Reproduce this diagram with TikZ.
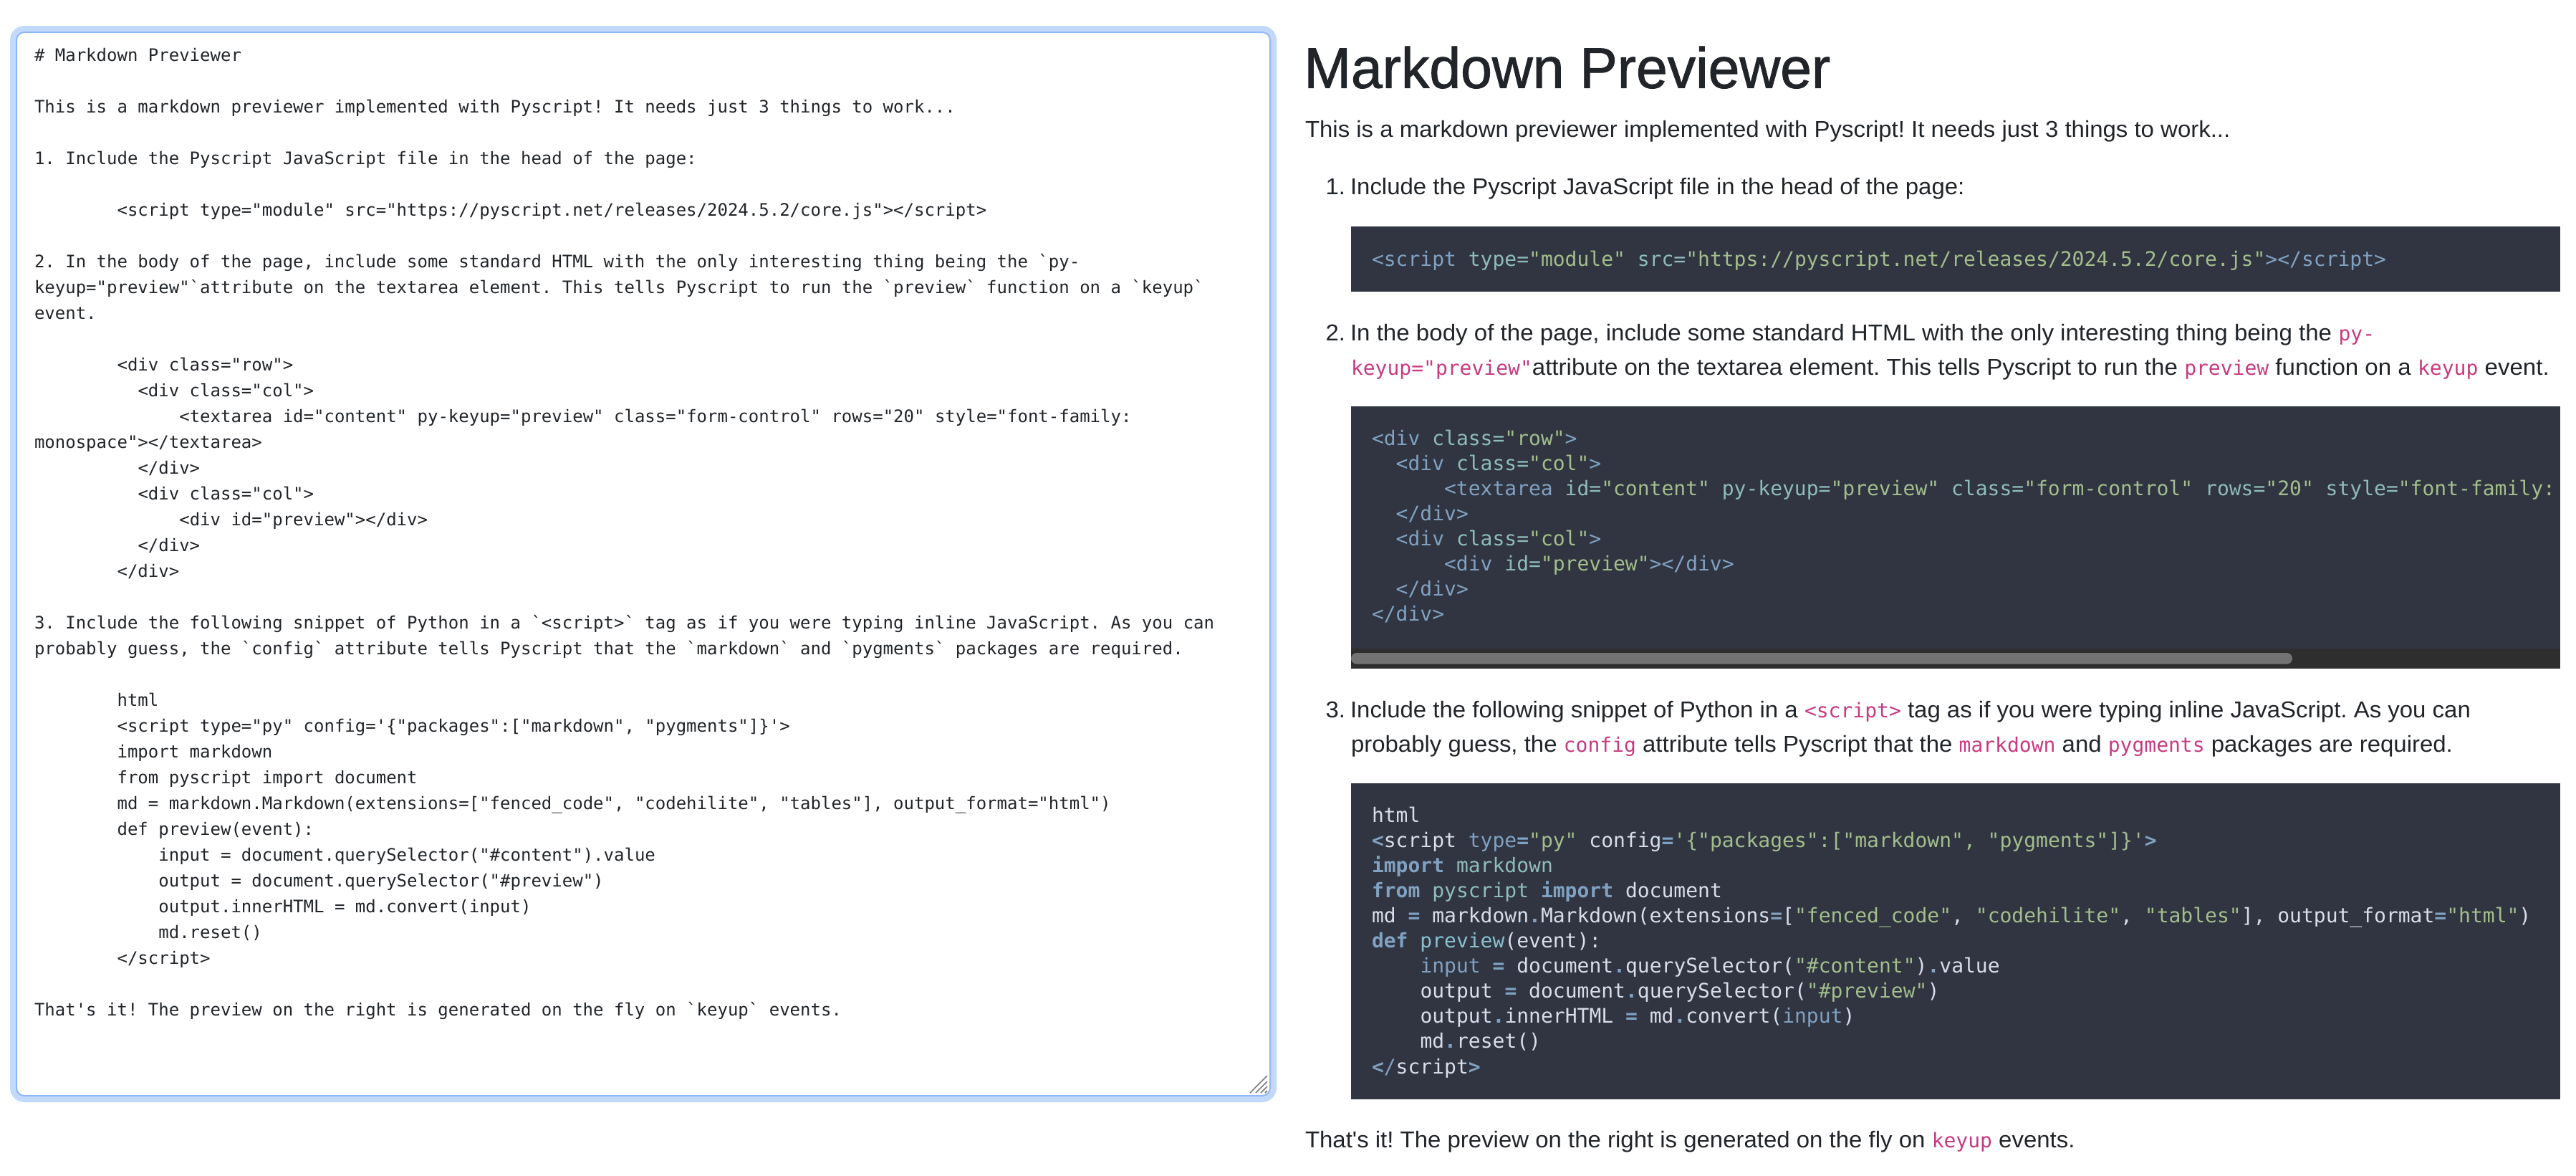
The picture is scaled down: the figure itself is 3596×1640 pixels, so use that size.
\documentclass[tikz,border=0pt]{standalone}
\usepackage{fontspec}
\setmainfont{Liberation Sans}
\newfontfamily\bodyf[FakeStretch=1.03]{Liberation Sans}
\newfontfamily\bodyg[FakeStretch=1.034]{Liberation Sans}
\newfontfamily\titlef[FakeStretch=0.984,FakeBold=1.2]{Liberation Sans}
\newfontfamily\monof{DejaVu Sans Mono}
\definecolor{ink}{HTML}{212529}
\definecolor{glowc}{HTML}{C3D9FC}
\definecolor{borderc}{HTML}{8FB8F8}
\definecolor{blockbg}{HTML}{303541}
\definecolor{trackc}{HTML}{2E2E2E}
\definecolor{thumbc}{HTML}{737373}
\definecolor{gripc}{HTML}{7B7B7B}
\definecolor{pinkc}{HTML}{C93A80}
\definecolor{ntag}{HTML}{81A1C1}
\definecolor{nattr}{HTML}{8FBCBB}
\definecolor{nstr}{HTML}{A3BE8C}
\definecolor{nwht}{HTML}{D8DEE9}
\definecolor{nfun}{HTML}{88C0D0}
\newcommand\cT[1]{\textcolor{ntag}{#1}}
\newcommand\cA[1]{\textcolor{nattr}{#1}}
\newcommand\cS[1]{\textcolor{nstr}{#1}}
\newcommand\cF[1]{\textcolor{nfun}{#1}}
\newcommand\cK[1]{\textcolor{ntag}{\bfseries #1}}
\newcommand\cd[1]{\textcolor{pinkc}{\monof\fontsize{14}{17}\selectfont #1}}
\frenchspacing
\tikzset{
  src/.style={anchor=base west,inner sep=0pt,outer sep=0pt,text=ink,font=\monof\fontsize{12}{18}\selectfont\frenchspacing},
  bodyt/.style={anchor=base west,inner sep=0pt,outer sep=0pt,text=ink,font=\bodyf\fontsize{16}{24}\selectfont\frenchspacing},
  bodyw/.style={bodyt,font=\bodyg\fontsize{16}{24}\selectfont\frenchspacing},
  code/.style={anchor=base west,inner sep=0pt,outer sep=0pt,text=nwht,font=\monof\fontsize{14}{17.5}\selectfont\frenchspacing},
  block/.style={fill=blockbg,draw=none},
  grip/.style={draw=gripc,line width=0.8pt}
}
\begin{document}
\begin{tikzpicture}[x=0.5pt,y=-0.5pt]
\useasboundingbox (0,0) rectangle (3596,1640);
\fill[white] (0,0) rectangle (3596,1640);
% textarea
\fill[glowc,rounded corners=10pt] (14,36) rectangle (1782,1538);
\draw[borderc,fill=white,line width=1pt,rounded corners=5.5pt] (23,45) rectangle (1773,1529);
\draw[grip] (1745,1525) -- (1769,1501);
\draw[grip] (1753,1525) -- (1769,1509);
\draw[grip] (1760,1525) -- (1769,1516);
\draw[grip] (1766,1525) -- (1769,1522);
% source text
\node[src] (L0) at (48,85) {\# Markdown Previewer};
\node[src] (L2) at (48,157) {This is a markdown previewer implemented with Pyscript! It needs just 3 things to work...};
\node[src] (L4) at (48,229) {1. Include the Pyscript JavaScript file in the head of the page:};
\node[src] (L6) at (163.6,301) {<script type="module" src="https://pyscript.net/releases/2024.5.2/core.js"></script>};
\node[src] (L8) at (48,373) {2. In the body of the page, include some standard HTML with the only interesting thing being the `py-};
\node[src] (L9) at (48,409) {keyup="preview"`attribute on the textarea element. This tells Pyscript to run the `preview` function on a `keyup`};
\node[src] (L10) at (48,445) {event.};
\node[src] (L12) at (163.6,517) {<div class="row">};
\node[src] (L13) at (192.5,553) {<div class="col">};
\node[src] (L14) at (250.3,589) {<textarea id="content" py-keyup="preview" class="form-control" rows="20" style="font-family:};
\node[src] (L15) at (48,625) {monospace"></textarea>};
\node[src] (L16) at (192.5,661) {</div>};
\node[src] (L17) at (192.5,697) {<div class="col">};
\node[src] (L18) at (250.3,733) {<div id="preview"></div>};
\node[src] (L19) at (192.5,769) {</div>};
\node[src] (L20) at (163.6,805) {</div>};
\node[src] (L22) at (48,877) {3. Include the following snippet of Python in a `<script>` tag as if you were typing inline JavaScript. As you can};
\node[src] (L23) at (48,913) {probably guess, the `config` attribute tells Pyscript that the `markdown` and `pygments` packages are required.};
\node[src] (L25) at (163.6,985) {html};
\node[src] (L26) at (163.6,1021) {<script type="py" config='\{"packages":["markdown", "pygments"]\}'>};
\node[src] (L27) at (163.6,1057) {import markdown};
\node[src] (L28) at (163.6,1093) {from pyscript import document};
\node[src] (L29) at (163.6,1129) {md = markdown.Markdown(extensions=["fenced\_code", "codehilite", "tables"], output\_format="html")};
\node[src] (L30) at (163.6,1165) {def preview(event):};
\node[src] (L31) at (221.4,1201) {input = document.querySelector("\#content").value};
\node[src] (L32) at (221.4,1237) {output = document.querySelector("\#preview")};
\node[src] (L33) at (221.4,1273) {output.innerHTML = md.convert(input)};
\node[src] (L34) at (221.4,1309) {md.reset()};
\node[src] (L35) at (163.6,1345) {</script>};
\node[src] (L37) at (48,1417) {That's it! The preview on the right is generated on the fly on `keyup` events.};
% rendered preview
\node[anchor=base west,inner sep=0pt,text=ink,font=\titlef\fontsize{40}{48}\selectfont] (title) at (1820,122.7) {Markdown Previewer};
\node[bodyt] (intro) at (1822,191.7) {This is a markdown previewer implemented with Pyscript! It needs just 3 things to work...};
\node[bodyt] (n1) at (1850.5,271.7) {1.};
\node[bodyt] (i1) at (1885,271.7) {Include the Pyscript JavaScript file in the head of the page:};
\fill[block] (1886,316) rectangle (3574,407);
\node[code] (c1) at (1915,371) {\cT{<script} \cA{type=}\cS{"module"} \cA{src=}\cS{"https://pyscript.net/releases/2024.5.2/core.js"}\cT{></script>}};
\node[bodyt] (n2) at (1850.5,475) {2.};
\node[bodyw] (i2a) at (1885,475) {In the body of the page, include some standard HTML with the only interesting thing being the \cd{py-}};
\node[bodyw] (i2b) at (1886,523) {\cd{keyup="preview"}attribute on the textarea element. This tells Pyscript to run the \cd{preview} function on a \cd{keyup} event.};
\fill[block] (1886,567) rectangle (3574,904.5);
\fill[trackc] (1886,904.5) rectangle (3574,933);
\fill[thumbc,rounded corners=4pt] (1886,911) rectangle (3200,926.7);
\node[code] (d0) at (1915,621) {\cT{<div} \cA{class=}\cS{"row"}\cT{>}};
\node[code] (d1) at (1948.7,656) {\cT{<div} \cA{class=}\cS{"col"}\cT{>}};
\node[code] (d2) at (2016.1,691) {\cT{<textarea} \cA{id=}\cS{"content"} \cA{py-keyup=}\cS{"preview"} \cA{class=}\cS{"form-control"} \cA{rows=}\cS{"20"} \cA{style=}\cS{"font-family:}};
\node[code] (d3) at (1948.7,726) {\cT{</div>}};
\node[code] (d4) at (1948.7,761) {\cT{<div} \cA{class=}\cS{"col"}\cT{>}};
\node[code] (d5) at (2016.1,796) {\cT{<div} \cA{id=}\cS{"preview"}\cT{></div>}};
\node[code] (d6) at (1948.7,831) {\cT{</div>}};
\node[code] (d7) at (1915,866) {\cT{</div>}};
\node[bodyt] (n3) at (1850.5,1001) {3.};
\node[bodyt] (i3a) at (1885,1001) {Include the following snippet of Python in a \cd{<script>} tag as if you were typing inline JavaScript. As you can};
\node[bodyt] (i3b) at (1886,1049) {probably guess, the \cd{config} attribute tells Pyscript that the \cd{markdown} and \cd{pygments} packages are required.};
\fill[block] (1886,1093) rectangle (3574,1534);
\node[code] (p0) at (1915,1147.3) {html};
\node[code] (p1) at (1915,1182.4) {\cK{<}script \cT{type}\cK{=}\cS{"py"} config\cK{=}\cS{'\{"packages":["markdown", "pygments"]\}'}\cK{>}};
\node[code] (p2) at (1915,1217.4) {\cK{import} \cA{markdown}};
\node[code] (p3) at (1915,1252.5) {\cK{from} \cA{pyscript} \cK{import} document};
\node[code] (p4) at (1915,1287.6) {md \cK{=} markdown\cK{.}Markdown(extensions\cK{=}[\cS{"fenced\_code"}, \cS{"codehilite"}, \cS{"tables"}], output\_format\cK{=}\cS{"html"})};
\node[code] (p5) at (1915,1322.7) {\cK{def} \cF{preview}(event):};
\node[code] (p6) at (1982.5,1357.7) {\cT{input} \cK{=} document\cK{.}querySelector(\cS{"\#content"})\cK{.}value};
\node[code] (p7) at (1982.5,1392.8) {output \cK{=} document\cK{.}querySelector(\cS{"\#preview"})};
\node[code] (p8) at (1982.5,1427.9) {output\cK{.}innerHTML \cK{=} md\cK{.}convert(\cT{input})};
\node[code] (p9) at (1982.5,1462.9) {md\cK{.}reset()};
\node[code] (p10) at (1915,1498) {\cK{<}\cT{/}script\cK{>}};
\node[bodyt] (end) at (1822,1601.7) {That's it! The preview on the right is generated on the fly on \cd{keyup} events.};
\end{tikzpicture}
\end{document}
